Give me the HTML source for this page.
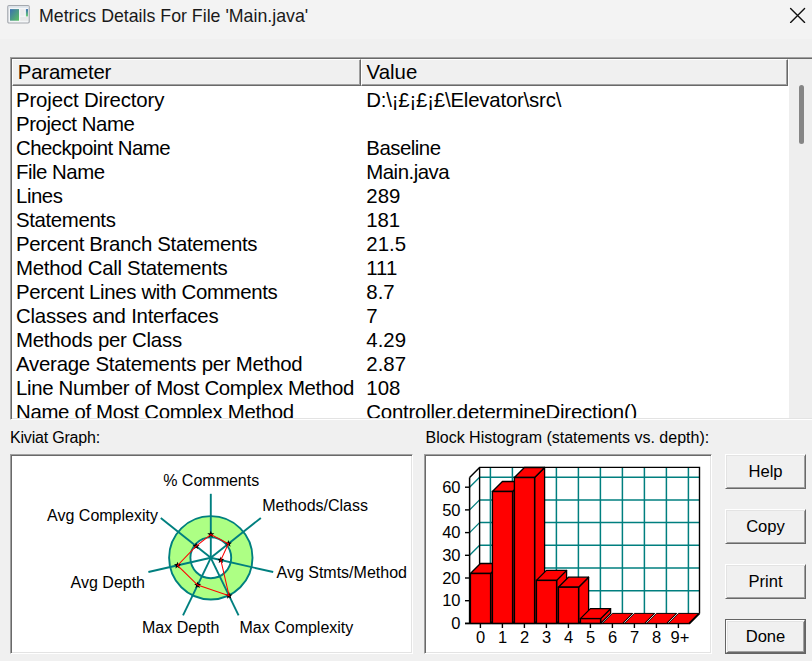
<!DOCTYPE html>
<html><head><meta charset="utf-8">
<style>
html,body{margin:0;padding:0;}
body{width:812px;height:661px;overflow:hidden;background:#f0f0f0;position:relative;font-family:"Liberation Sans",Arial,sans-serif;color:#000;}
.a{position:absolute;white-space:pre;}
#title{position:absolute;left:0;top:0;width:812px;height:39px;background:#f3f3f3;}
#ttext{position:absolute;left:39px;top:4.0px;font-size:17.75px;line-height:24px;color:#1a1a1a;}
.sunk{position:absolute;box-sizing:border-box;background:#fff;border-style:solid;border-width:1px;border-color:#a0a0a0 #fff #fff #a0a0a0;box-shadow:inset 1px 1px 0 #696969, inset -1px -1px 0 #e3e3e3;}
.hd{position:absolute;box-sizing:border-box;background:#f0f0f0;border-style:solid;border-width:1px;border-color:#fff #696969 #696969 #fff;box-shadow:inset -1px -1px 0 #a0a0a0;}
.row{position:absolute;font-size:20.4px;line-height:24px;white-space:pre;}
.lbl{position:absolute;font-size:16px;line-height:18px;white-space:pre;}
.btn{position:absolute;left:725px;width:81px;height:35px;box-sizing:border-box;background:#f0f0f0;font-size:16.6px;text-align:center;}
.bi{position:absolute;left:0;top:0;right:0;bottom:0;border-style:solid;border-width:1px;border-color:#fff #696969 #696969 #fff;box-shadow:inset 1px 1px 0 #e3e3e3, inset -1px -1px 0 #a0a0a0;line-height:34.2px;}
</style></head><body>
<div id="title">
  <svg width="40" height="38" style="position:absolute;left:0;top:0">
    <defs><linearGradient id="ig" x1="0" y1="0" x2="1" y2="1"><stop offset="0" stop-color="#3a6fb0"/><stop offset="1" stop-color="#5cc060"/></linearGradient>
    <linearGradient id="ig2" x1="0" y1="0" x2="0" y2="1"><stop offset="0" stop-color="#3a6fb0"/><stop offset="1" stop-color="#6cd070"/></linearGradient></defs>
    <rect x="7.8" y="5.6" width="21.4" height="17.4" rx="1.2" fill="#f4f6f8" stroke="#a4a8ae" stroke-width="1.2"/>
    <rect x="8.6" y="6.2" width="20" height="1.6" fill="#dde3ea"/>
    <rect x="10" y="9.1" width="9" height="11.6" fill="url(#ig)"/>
    <rect x="20.2" y="9.1" width="4.4" height="6.6" fill="#ebebeb"/>
    <rect x="25.9" y="9.1" width="2.1" height="7.4" fill="url(#ig2)"/>
    <rect x="20.2" y="16.8" width="7.8" height="4" fill="#e8e8e8"/>
  </svg>
  <div id="ttext" class="a">Metrics Details For File 'Main.java'</div>
  <svg width="20" height="20" style="position:absolute;left:788px;top:6px"><path d="M2.6 2.4 L16.6 16.4 M16.6 2.4 L2.6 16.4" stroke="#111" stroke-width="1.35" stroke-linecap="round"/></svg>
</div>
<div class="sunk" style="left:10px;top:57px;width:830px;height:363px;"></div>
<div class="hd" style="left:12px;top:59px;width:349px;height:27px;"></div>
<div class="hd" style="left:361px;top:59px;width:427px;height:27px;"></div>
<div style="position:absolute;left:788px;top:59px;width:1px;height:359px;background:#fff;"></div>
<div style="position:absolute;left:789px;top:59px;width:30px;height:359px;background:#eeeeee;"></div>
<div style="position:absolute;left:799px;top:85px;width:5px;height:59px;border-radius:3px;background:#858585;"></div>
<div class="row" style="left:17.8px;top:59.9px;letter-spacing:-0.2px">Parameter</div>
<div class="row" style="left:366.6px;top:59.9px">Value</div>
<div style="position:absolute;left:12px;top:86px;width:776px;height:332px;overflow:hidden;">
<div class="row" style="left:4px;top:1.7px;letter-spacing:-0.144px">Project Directory</div>
<div class="row" style="left:354.3px;top:1.7px;letter-spacing:-0.2px">D:\¡£¡£¡£\Elevator\src\</div>
<div class="row" style="left:4px;top:25.7px;letter-spacing:-0.428px">Project Name</div>
<div class="row" style="left:4px;top:49.7px;letter-spacing:-0.535px">Checkpoint Name</div>
<div class="row" style="left:354.3px;top:49.7px;letter-spacing:-0.5px">Baseline</div>
<div class="row" style="left:4px;top:73.7px;letter-spacing:-0.486px">File Name</div>
<div class="row" style="left:354.3px;top:73.7px;letter-spacing:-0.5px">Main.java</div>
<div class="row" style="left:4px;top:97.7px;letter-spacing:-0.45px">Lines</div>
<div class="row" style="left:354.3px;top:97.7px;letter-spacing:0px">289</div>
<div class="row" style="left:4px;top:121.7px;letter-spacing:-0.366px">Statements</div>
<div class="row" style="left:354.3px;top:121.7px;letter-spacing:-0.1px">181</div>
<div class="row" style="left:4px;top:145.7px;letter-spacing:-0.325px">Percent Branch Statements</div>
<div class="row" style="left:354.3px;top:145.7px;letter-spacing:0px">21.5</div>
<div class="row" style="left:4px;top:169.7px;letter-spacing:-0.281px">Method Call Statements</div>
<div class="row" style="left:354.3px;top:169.7px;letter-spacing:0px">111</div>
<div class="row" style="left:4px;top:193.7px;letter-spacing:-0.354px">Percent Lines with Comments</div>
<div class="row" style="left:354.3px;top:193.7px;letter-spacing:0px">8.7</div>
<div class="row" style="left:4px;top:217.7px;letter-spacing:-0.228px">Classes and Interfaces</div>
<div class="row" style="left:354.3px;top:217.7px;letter-spacing:0px">7</div>
<div class="row" style="left:4px;top:241.7px;letter-spacing:-0.244px">Methods per Class</div>
<div class="row" style="left:354.3px;top:241.7px;letter-spacing:0px">4.29</div>
<div class="row" style="left:4px;top:265.7px;letter-spacing:-0.232px">Average Statements per Method</div>
<div class="row" style="left:354.3px;top:265.7px;letter-spacing:0px">2.87</div>
<div class="row" style="left:4px;top:289.7px;letter-spacing:-0.327px">Line Number of Most Complex Method</div>
<div class="row" style="left:354.3px;top:289.7px;letter-spacing:0px">108</div>
<div class="row" style="left:4px;top:313.7px;letter-spacing:-0.331px">Name of Most Complex Method</div>
<div class="row" style="left:354.3px;top:313.7px;letter-spacing:-0.22px">Controller.determineDirection()</div>
</div>
<div class="lbl" style="left:10px;top:429.2px;letter-spacing:-0.2px">Kiviat Graph:</div>
<div class="lbl" style="left:425.5px;top:429.2px">Block Histogram (statements vs. depth):</div>
<div class="sunk" style="left:10px;top:454px;width:403px;height:200px;"></div>
<div class="sunk" style="left:424px;top:454px;width:288px;height:200px;"></div>
<svg width="812" height="661" viewBox="0 0 812 661" style="position:absolute;left:0;top:0" font-family="Liberation Sans, Arial, sans-serif" font-size="16">
<g>
<circle cx="210.8" cy="557.8" r="41.7" fill="#adff84" stroke="#007f7f" stroke-width="1.9"/>
<circle cx="210.8" cy="557.8" r="20.4" fill="#fff" stroke="#007f7f" stroke-width="1.9"/>
<line x1="210.8" y1="557.8" x2="210.80" y2="493.80" stroke="#007f7f" stroke-width="1.9"/>
<line x1="210.8" y1="557.8" x2="260.84" y2="517.90" stroke="#007f7f" stroke-width="1.9"/>
<line x1="210.8" y1="557.8" x2="273.20" y2="572.04" stroke="#007f7f" stroke-width="1.9"/>
<line x1="210.8" y1="557.8" x2="238.57" y2="615.46" stroke="#007f7f" stroke-width="1.9"/>
<line x1="210.8" y1="557.8" x2="183.03" y2="615.46" stroke="#007f7f" stroke-width="1.9"/>
<line x1="210.8" y1="557.8" x2="148.40" y2="572.04" stroke="#007f7f" stroke-width="1.9"/>
<line x1="210.8" y1="557.8" x2="160.76" y2="517.90" stroke="#007f7f" stroke-width="1.9"/>
<polygon points="210.80,530.80 209.86,533.21 207.28,533.36 209.28,534.99 208.63,537.49 210.80,536.10 212.97,537.49 212.32,534.99 214.32,533.36 211.74,533.21" fill="#000"/>
<polygon points="228.39,540.07 227.45,542.48 224.87,542.63 226.87,544.27 226.22,546.76 228.39,545.37 230.57,546.76 229.91,544.27 231.91,542.63 229.33,542.48" fill="#000"/>
<polygon points="220.84,556.39 219.90,558.80 217.32,558.95 219.32,560.59 218.67,563.09 220.84,561.69 223.02,563.09 222.36,560.59 224.36,558.95 221.78,558.80" fill="#000"/>
<polygon points="229.07,592.03 228.13,594.44 225.55,594.59 227.54,596.23 226.89,598.72 229.07,597.33 231.24,598.72 230.59,596.23 232.59,594.59 230.01,594.44" fill="#000"/>
<polygon points="197.65,581.40 196.71,583.80 194.13,583.96 196.13,585.59 195.48,588.09 197.65,586.70 199.83,588.09 199.18,585.59 201.17,583.96 198.59,583.80" fill="#000"/>
<polygon points="177.55,561.69 176.61,564.09 174.04,564.24 176.03,565.88 175.38,568.38 177.55,566.99 179.73,568.38 179.08,565.88 181.07,564.24 178.50,564.09" fill="#000"/>
<polygon points="196.10,542.38 195.16,544.78 192.58,544.94 194.58,546.57 193.93,549.07 196.10,547.68 198.28,549.07 197.62,546.57 199.62,544.94 197.04,544.78" fill="#000"/>
<polygon points="210.80,534.50 228.39,543.77 220.84,560.09 229.07,595.73 197.65,585.10 177.55,565.39 196.10,546.08" fill="none" stroke="#f00" stroke-width="1.05"/>
<text x="163.2" y="485.6">% Comments</text>
<text x="262.2" y="511">Methods/Class</text>
<text x="276.5" y="578.4">Avg Stmts/Method</text>
<text x="239.5" y="632.9">Max Complexity</text>
<text x="142.0" y="632.9">Max Depth</text>
<text x="70.60000000000001" y="588">Avg Depth</text>
<text x="47.1" y="521">Avg Complexity</text>
</g>
<g>
<line x1="469.6" y1="600.70" x2="479.6" y2="590.70" stroke="#007f7f" stroke-width="1.3"/>
<line x1="479.6" y1="590.70" x2="699.5" y2="590.70" stroke="#007f7f" stroke-width="1.5"/>
<line x1="469.6" y1="578.00" x2="479.6" y2="568.00" stroke="#007f7f" stroke-width="1.3"/>
<line x1="479.6" y1="568.00" x2="699.5" y2="568.00" stroke="#007f7f" stroke-width="1.5"/>
<line x1="469.6" y1="555.30" x2="479.6" y2="545.30" stroke="#007f7f" stroke-width="1.3"/>
<line x1="479.6" y1="545.30" x2="699.5" y2="545.30" stroke="#007f7f" stroke-width="1.5"/>
<line x1="469.6" y1="532.60" x2="479.6" y2="522.60" stroke="#007f7f" stroke-width="1.3"/>
<line x1="479.6" y1="522.60" x2="699.5" y2="522.60" stroke="#007f7f" stroke-width="1.5"/>
<line x1="469.6" y1="509.90" x2="479.6" y2="499.90" stroke="#007f7f" stroke-width="1.3"/>
<line x1="479.6" y1="499.90" x2="699.5" y2="499.90" stroke="#007f7f" stroke-width="1.5"/>
<line x1="469.6" y1="487.20" x2="479.6" y2="477.20" stroke="#007f7f" stroke-width="1.3"/>
<line x1="479.6" y1="477.20" x2="699.5" y2="477.20" stroke="#007f7f" stroke-width="1.5"/>
<line x1="490.40" y1="467.4" x2="490.40" y2="613.4" stroke="#007f7f" stroke-width="1.5"/>
<line x1="512.40" y1="467.4" x2="512.40" y2="613.4" stroke="#007f7f" stroke-width="1.5"/>
<line x1="534.40" y1="467.4" x2="534.40" y2="613.4" stroke="#007f7f" stroke-width="1.5"/>
<line x1="556.40" y1="467.4" x2="556.40" y2="613.4" stroke="#007f7f" stroke-width="1.5"/>
<line x1="578.40" y1="467.4" x2="578.40" y2="613.4" stroke="#007f7f" stroke-width="1.5"/>
<line x1="600.40" y1="467.4" x2="600.40" y2="613.4" stroke="#007f7f" stroke-width="1.5"/>
<line x1="622.40" y1="467.4" x2="622.40" y2="613.4" stroke="#007f7f" stroke-width="1.5"/>
<line x1="644.40" y1="467.4" x2="644.40" y2="613.4" stroke="#007f7f" stroke-width="1.5"/>
<line x1="666.40" y1="467.4" x2="666.40" y2="613.4" stroke="#007f7f" stroke-width="1.5"/>
<line x1="688.40" y1="467.4" x2="688.40" y2="613.4" stroke="#007f7f" stroke-width="1.5"/>
<path d="M469.6,477.4 L479.6,467.4 L699.5,467.4 L699.5,613.4 M479.6,467.4 L479.6,613.4" fill="none" stroke="#000" stroke-width="1.4"/>
<line x1="469.6" y1="477.4" x2="469.6" y2="623.4" stroke="#000" stroke-width="1.5"/>
<line x1="465" y1="623.40" x2="469.6" y2="623.40" stroke="#000" stroke-width="1.4"/>
<text x="460.5" y="629.00" text-anchor="end" font-size="16.5">0</text>
<line x1="465" y1="600.70" x2="469.6" y2="600.70" stroke="#000" stroke-width="1.4"/>
<text x="460.5" y="606.30" text-anchor="end" font-size="16.5">10</text>
<line x1="465" y1="578.00" x2="469.6" y2="578.00" stroke="#000" stroke-width="1.4"/>
<text x="460.5" y="583.60" text-anchor="end" font-size="16.5">20</text>
<line x1="465" y1="555.30" x2="469.6" y2="555.30" stroke="#000" stroke-width="1.4"/>
<text x="460.5" y="560.90" text-anchor="end" font-size="16.5">30</text>
<line x1="465" y1="532.60" x2="469.6" y2="532.60" stroke="#000" stroke-width="1.4"/>
<text x="460.5" y="538.20" text-anchor="end" font-size="16.5">40</text>
<line x1="465" y1="509.90" x2="469.6" y2="509.90" stroke="#000" stroke-width="1.4"/>
<text x="460.5" y="515.50" text-anchor="end" font-size="16.5">50</text>
<line x1="465" y1="487.20" x2="469.6" y2="487.20" stroke="#000" stroke-width="1.4"/>
<text x="460.5" y="492.80" text-anchor="end" font-size="16.5">60</text>
<path d="M465,623.4 L689.60,623.4 L699.60,613.4" fill="none" stroke="#000" stroke-width="1.5"/>
<polygon points="490.60,573.5 500.60,563.5 500.60,613.4 490.60,623.4" fill="#f00" stroke="#000" stroke-width="1.3" stroke-linejoin="round"/>
<polygon points="470.40,573.5 490.60,573.5 500.60,563.5 480.40,563.5" fill="#f00" stroke="#000" stroke-width="1.3" stroke-linejoin="round"/>
<rect x="470.40" y="573.5" width="20.20" height="49.90" fill="#f00" stroke="#000" stroke-width="1.4"/>
<polygon points="512.60,491.5 522.60,481.5 522.60,613.4 512.60,623.4" fill="#f00" stroke="#000" stroke-width="1.3" stroke-linejoin="round"/>
<polygon points="492.40,491.5 512.60,491.5 522.60,481.5 502.40,481.5" fill="#f00" stroke="#000" stroke-width="1.3" stroke-linejoin="round"/>
<rect x="492.40" y="491.5" width="20.20" height="131.90" fill="#f00" stroke="#000" stroke-width="1.4"/>
<polygon points="534.60,477.5 544.60,467.5 544.60,613.4 534.60,623.4" fill="#f00" stroke="#000" stroke-width="1.3" stroke-linejoin="round"/>
<polygon points="514.40,477.5 534.60,477.5 544.60,467.5 524.40,467.5" fill="#f00" stroke="#000" stroke-width="1.3" stroke-linejoin="round"/>
<rect x="514.40" y="477.5" width="20.20" height="145.90" fill="#f00" stroke="#000" stroke-width="1.4"/>
<polygon points="556.60,580.4 566.60,570.4 566.60,613.4 556.60,623.4" fill="#f00" stroke="#000" stroke-width="1.3" stroke-linejoin="round"/>
<polygon points="536.40,580.4 556.60,580.4 566.60,570.4 546.40,570.4" fill="#f00" stroke="#000" stroke-width="1.3" stroke-linejoin="round"/>
<rect x="536.40" y="580.4" width="20.20" height="43.00" fill="#f00" stroke="#000" stroke-width="1.4"/>
<polygon points="578.60,587.2 588.60,577.2 588.60,613.4 578.60,623.4" fill="#f00" stroke="#000" stroke-width="1.3" stroke-linejoin="round"/>
<polygon points="558.40,587.2 578.60,587.2 588.60,577.2 568.40,577.2" fill="#f00" stroke="#000" stroke-width="1.3" stroke-linejoin="round"/>
<rect x="558.40" y="587.2" width="20.20" height="36.20" fill="#f00" stroke="#000" stroke-width="1.4"/>
<polygon points="600.60,618.6 610.60,608.6 610.60,613.4 600.60,623.4" fill="#f00" stroke="#000" stroke-width="1.3" stroke-linejoin="round"/>
<polygon points="580.40,618.6 600.60,618.6 610.60,608.6 590.40,608.6" fill="#f00" stroke="#000" stroke-width="1.3" stroke-linejoin="round"/>
<rect x="580.40" y="618.6" width="20.20" height="4.80" fill="#f00" stroke="#000" stroke-width="1.4"/>
<polygon points="622.40,623.4 632.40,613.4 632.40,613.4 622.40,623.4" fill="#f00" stroke="#000" stroke-width="1.0" stroke-linejoin="round"/>
<polygon points="602.40,623.4 622.40,623.4 632.40,613.4 612.40,613.4" fill="#f00" stroke="#000" stroke-width="1.0" stroke-linejoin="round"/>
<polygon points="644.40,623.4 654.40,613.4 654.40,613.4 644.40,623.4" fill="#f00" stroke="#000" stroke-width="1.0" stroke-linejoin="round"/>
<polygon points="624.40,623.4 644.40,623.4 654.40,613.4 634.40,613.4" fill="#f00" stroke="#000" stroke-width="1.0" stroke-linejoin="round"/>
<polygon points="666.40,623.4 676.40,613.4 676.40,613.4 666.40,623.4" fill="#f00" stroke="#000" stroke-width="1.0" stroke-linejoin="round"/>
<polygon points="646.40,623.4 666.40,623.4 676.40,613.4 656.40,613.4" fill="#f00" stroke="#000" stroke-width="1.0" stroke-linejoin="round"/>
<polygon points="688.40,623.4 698.40,613.4 698.40,613.4 688.40,623.4" fill="#f00" stroke="#000" stroke-width="1.0" stroke-linejoin="round"/>
<polygon points="668.40,623.4 688.40,623.4 698.40,613.4 678.40,613.4" fill="#f00" stroke="#000" stroke-width="1.0" stroke-linejoin="round"/>
<line x1="480.40" y1="623.4" x2="480.40" y2="628" stroke="#000" stroke-width="1.4"/>
<text x="480.60" y="642.9" text-anchor="middle" font-size="16.5">0</text>
<line x1="502.40" y1="623.4" x2="502.40" y2="628" stroke="#000" stroke-width="1.4"/>
<text x="502.60" y="642.9" text-anchor="middle" font-size="16.5">1</text>
<line x1="524.40" y1="623.4" x2="524.40" y2="628" stroke="#000" stroke-width="1.4"/>
<text x="524.60" y="642.9" text-anchor="middle" font-size="16.5">2</text>
<line x1="546.40" y1="623.4" x2="546.40" y2="628" stroke="#000" stroke-width="1.4"/>
<text x="546.60" y="642.9" text-anchor="middle" font-size="16.5">3</text>
<line x1="568.40" y1="623.4" x2="568.40" y2="628" stroke="#000" stroke-width="1.4"/>
<text x="568.60" y="642.9" text-anchor="middle" font-size="16.5">4</text>
<line x1="590.40" y1="623.4" x2="590.40" y2="628" stroke="#000" stroke-width="1.4"/>
<text x="590.60" y="642.9" text-anchor="middle" font-size="16.5">5</text>
<line x1="612.40" y1="623.4" x2="612.40" y2="628" stroke="#000" stroke-width="1.4"/>
<text x="612.60" y="642.9" text-anchor="middle" font-size="16.5">6</text>
<line x1="634.40" y1="623.4" x2="634.40" y2="628" stroke="#000" stroke-width="1.4"/>
<text x="634.60" y="642.9" text-anchor="middle" font-size="16.5">7</text>
<line x1="656.40" y1="623.4" x2="656.40" y2="628" stroke="#000" stroke-width="1.4"/>
<text x="656.60" y="642.9" text-anchor="middle" font-size="16.5">8</text>
<line x1="678.40" y1="623.4" x2="678.40" y2="628" stroke="#000" stroke-width="1.4"/>
<text x="679.90" y="642.9" text-anchor="middle" font-size="16.5">9+</text>
</g>
</svg>
<div class="btn" style="top:454px;"><div class="bi">Help</div></div>
<div class="btn" style="top:509px;"><div class="bi">Copy</div></div>
<div class="btn" style="top:564px;"><div class="bi">Print</div></div>
<div class="btn" style="top:619px;border:1px solid #646464;"><div class="bi" style="line-height:32.2px">Done</div></div>
</body></html>
